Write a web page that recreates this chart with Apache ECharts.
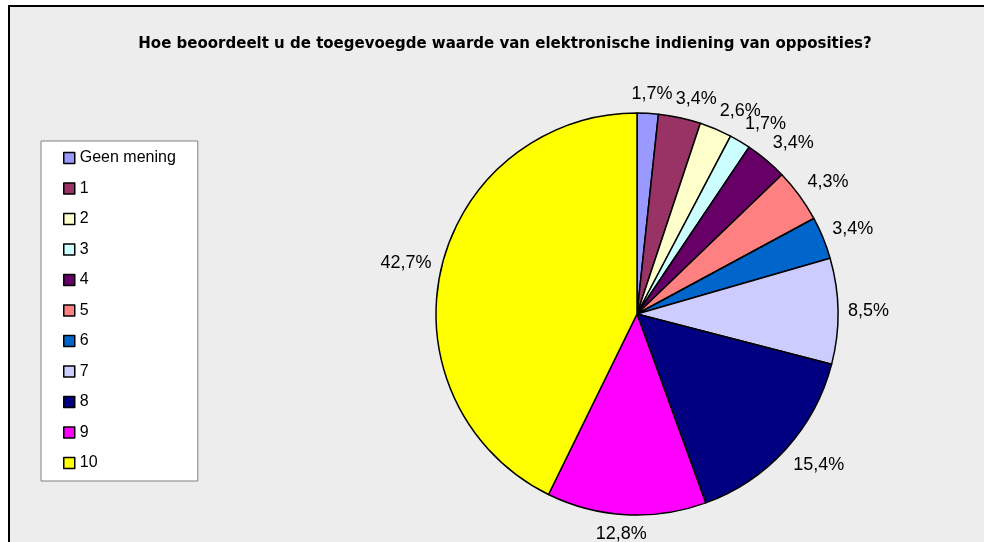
<!DOCTYPE html>
<html><head><meta charset="utf-8">
<script src="https://cdn.jsdelivr.net/npm/echarts@6/dist/echarts.min.js"></script>
<style>html,body{margin:0;padding:0;background:#fff}#c{width:984px;height:542px}</style>
</head><body><div id="c"></div>
<script>
const titleText = 'Hoe beoordeelt u de toegevoegde waarde van elektronische indiening van opposities?';
const categories = ['Geen mening','1','2','3','4','5','6','7','8','9','10'];
const percentages = [1.7, 3.4, 2.6, 1.7, 3.4, 4.3, 3.4, 8.5, 15.4, 12.8, 42.7];
const colors = ['#9999FF','#993366','#FFFFCC','#CCFFFF','#660066','#FF8080','#0066CC','#CCCCFF','#000080','#FF00FF','#FFFF00'];

const LABEL_GAP = 10;
const clamp = v => Math.max(-1, Math.min(1, v));
const chart = echarts.init(document.getElementById('c'));
chart.setOption({
  animation: false,
  backgroundColor: '#ffffff',
  graphic: [{
    type: 'rect', z: -10, silent: true,
    shape: { x: 9, y: 6, width: 1100, height: 700 },
    style: { fill: '#EDEDED', stroke: '#000', lineWidth: 2 }
  }],
  title: {
    text: titleText, left: 500, top: 32, textAlign: 'center',
    textStyle: { fontFamily: 'DejaVu Sans', fontWeight: 'bold', fontSize: 15, color: '#000' }
  },
  legend: {
    orient: 'vertical', left: 41, top: 141,
    padding: [8, 22, 9, 22],
    backgroundColor: '#fff', borderColor: '#808080', borderWidth: 1,
    itemWidth: 11, itemHeight: 11, itemGap: 12.5, icon: 'rect',
    itemStyle: { borderColor: '#000', borderWidth: 1.5 },
    textStyle: { fontFamily: 'Liberation Sans, Arial', fontSize: 16, color: '#000', lineHeight: 18 },
    data: categories
  },
  series: [{
    type: 'pie',
    center: [637, 314], radius: 201,
    startAngle: 90, clockwise: true,
    avoidLabelOverlap: false,
    itemStyle: { borderColor: '#000', borderWidth: 1.5 },
    label: {
      position: 'outside', distanceToLabelLine: 3,
      fontFamily: 'Liberation Sans, Arial', fontSize: 18, color: '#000',
      formatter: p => p.value.toFixed(1).replace('.', ',') + '%'
    },
    labelLine: { show: true, length: 10, length2: 0, lineStyle: { width: 0, opacity: 0 } },
    labelLayout: function (params) {
      const pts = params.labelLinePoints;
      const r = params.labelRect;
      if (!pts || pts.length < 2) return { hideOverlap: false };
      let ux = pts[1][0] - pts[0][0], uy = pts[1][1] - pts[0][1];
      const len = Math.hypot(ux, uy) || 1;
      ux /= len; uy /= len;
      const x = pts[0][0] + ux * LABEL_GAP + (r.width / 2) * clamp(3.3 * ux);
      const y = pts[0][1] + uy * LABEL_GAP + (r.height / 2) * clamp(1.5 * uy);
      return { x: x, y: y, align: 'center', verticalAlign: 'middle', hideOverlap: false };
    },
    emphasis: { disabled: true },
    data: categories.map((n, i) => ({ name: n, value: percentages[i], itemStyle: { color: colors[i] } }))
  }]
});
</script></body></html>
